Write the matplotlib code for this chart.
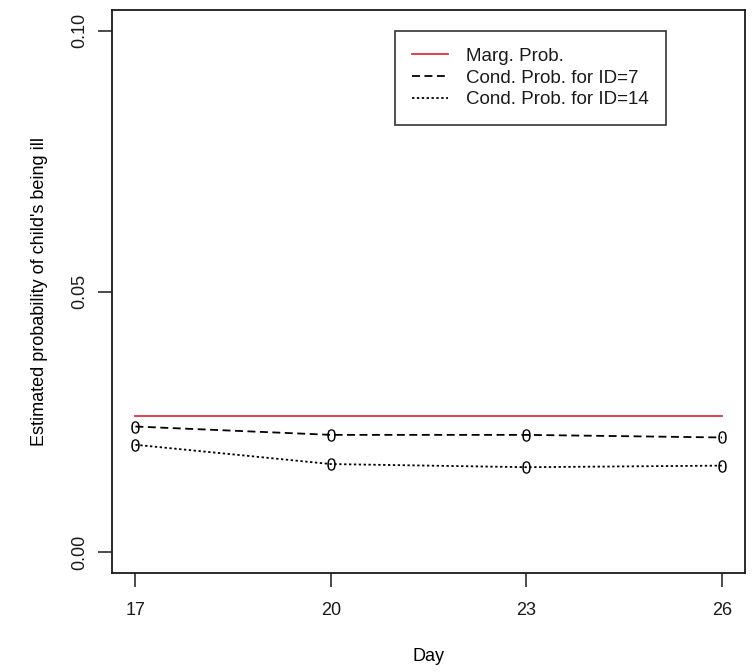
import matplotlib

matplotlib.use("Agg")
import matplotlib.pyplot as plt

plt.rcParams.update(
    {
        "font.family": ["Liberation Sans", "DejaVu Sans"],
        "mathtext.fontset": "custom",
        "mathtext.rm": "Liberation Sans",
        "text.color": "#1a1a1a",
        "xtick.color": "#1a1a1a",
        "ytick.color": "#1a1a1a",
    }
)

days = [17, 20, 23, 26]
marg_prob = [0.0261, 0.0261, 0.0261, 0.0261]
cond_id7 = [0.0241, 0.0225, 0.0225, 0.0220]
cond_id14 = [0.0206, 0.0169, 0.0163, 0.0166]
y_ticks = [0.00, 0.05, 0.10]
y_tick_labels = ["0.00", "0.05", "0.10"]

fig = plt.figure(figsize=(7.55, 6.72), dpi=100)
ax = fig.add_axes([0.1483, 0.1473, 0.8391, 0.8378])

ax.plot(days, marg_prob, color="#e0303c", linewidth=1.3, label="Marg. Prob.")
ax.plot(days, cond_id7, color="black", linewidth=1.3, dashes=(4.4, 2.5),
        marker=r"$\mathrm{0}$", markersize=9, markeredgewidth=0,
        label="Cond. Prob. for ID=7")
ax.plot(days, cond_id14, color="black", linewidth=1.3, dashes=(1.3, 1.4),
        marker=r"$\mathrm{0}$", markersize=9, markeredgewidth=0,
        label="Cond. Prob. for ID=14")

ax.set_xlim(16.64, 26.36)
ax.set_ylim(-0.004, 0.104)
ax.set_xticks(days, [str(d) for d in days])
ax.set_yticks(y_ticks, y_tick_labels)
plt.setp(ax.get_yticklabels(), rotation=90, va="center")
ax.tick_params(axis="both", direction="out", length=10, width=1.1, labelsize=13)
ax.tick_params(axis="x", pad=11)
ax.tick_params(axis="y", pad=7)
for spine in ax.spines.values():
    spine.set_linewidth(1.3)
    spine.set_color("#1a1a1a")

ax.set_xlabel("Day", fontsize=13, labelpad=21)
ax.set_ylabel("Estimated probability of child's being ill", fontsize=13, labelpad=17)

leg = ax.legend(
    loc="upper left",
    bbox_to_anchor=(0.447, 0.963),
    borderaxespad=0,
    fontsize=13.5,
    frameon=True,
    fancybox=False,
    handlelength=1.9,
    handletextpad=1.0,
    labelspacing=0.25,
    borderpad=0.9,
)
leg.get_frame().set_edgecolor("black")
leg.get_frame().set_linewidth(1.2)
for h in leg.legend_handles:
    h.set_marker("")

fig.savefig("out.png", dpi=100)
